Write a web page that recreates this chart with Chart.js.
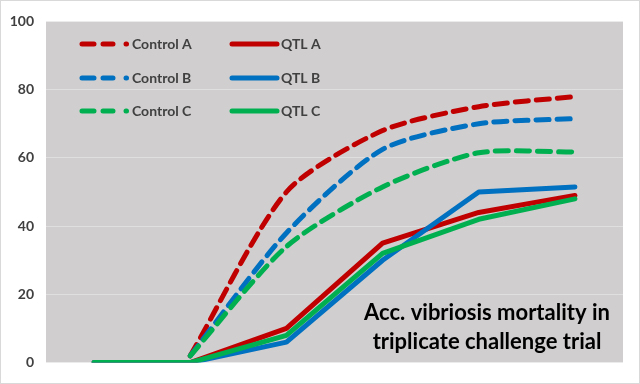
<!DOCTYPE html>
<html>
<head>
<meta charset="utf-8">
<script src="https://cdn.jsdelivr.net/npm/chart.js@4/dist/chart.umd.min.js"></script>
<style>
  html, body { margin: 0; padding: 0; background: #fff; }
  #wrap { width: 640px; height: 384px; box-sizing: border-box; border: 1px solid #d9d9d9; }
</style>
</head>
<body>
<div id="wrap"><canvas id="mortChart" width="638" height="382"></canvas></div>
<script>
/* ================= DATA ================= */
const days = ["1", "2", "3", "4", "5", "6"];
const controlA = [null, 2, 50, 68, 75, 78];
const controlB = [null, 2, 38, 62.5, 70, 71.5];
const controlC = [null, 2, 34, 51.5, 61.5, 61.7];
const qtlA = [0, 0, 10, 35, 44, 49];
const qtlB = [0, 0, 6, 30, 50, 51.5];
const qtlC = [0, 0, 8, 32, 42, 48];
const yTicks = [0, 20, 40, 60, 80, 100];
const titleLines = ["Acc. vibriosis mortality in", "triplicate challenge trial"];

const RED = "#c00000", BLUE = "#0070c0", GREEN = "#00b050";
const FONT = "Lato, 'Open Sans', sans-serif";

function ctrl(label, data, color, order) {
  return {
    label, data, borderColor: color, borderWidth: 5, borderDash: [13, 8],
    borderCapStyle: "round", tension: 0.25,
    pointRadius: 0, fill: false, order
  };
}
function qtl(label, data, color, order) {
  return {
    label, data, borderColor: color, borderWidth: 5, borderCapStyle: "round",
    borderJoinStyle: "round", tension: 0, pointRadius: 0, fill: false, order
  };
}

/* ================= BACKGROUND + LEGEND + NOTE ================= */
const decor = {
  id: "decor",
  beforeDraw(chart) {
    const { ctx, chartArea: a } = chart;
    ctx.save();
    ctx.fillStyle = "#d0cece";
    ctx.fillRect(a.left, a.top, a.right - a.left, a.bottom - a.top);
    ctx.restore();
  },
  afterDraw(chart) {
    const ctx = chart.ctx;
    const sets = chart.data.datasets;
    // legend: 2 columns x 3 rows
    const rows = [43, 77, 110];
    ctx.save();
    ctx.lineWidth = 5;
    ctx.lineCap = "round";
    ctx.font = "bold 14px " + FONT;
    ctx.textBaseline = "middle";
    ctx.fillStyle = "#404040";
    for (let i = 0; i < 3; i++) {
      const c = sets[i], q = sets[i + 3], y = rows[i];
      ctx.strokeStyle = c.borderColor;
      ctx.setLineDash([12, 9]);
      ctx.beginPath(); ctx.moveTo(81, y); ctx.lineTo(112, y); ctx.stroke();
      ctx.setLineDash([]);
      ctx.beginPath(); ctx.moveTo(125, y); ctx.lineTo(125.5, y); ctx.stroke();
      ctx.fillText(c.label, 131, y);
      ctx.strokeStyle = q.borderColor;
      ctx.beginPath(); ctx.moveTo(231, y); ctx.lineTo(276, y); ctx.stroke();
      ctx.fillText(q.label, 280, y);
    }
    ctx.font = "bold 22px " + FONT;
    ctx.fillStyle = "#000";
    ctx.textAlign = "center";
    ctx.fillText(titleLines[0], 486, 312);
    ctx.fillText(titleLines[1], 486, 341);
    ctx.restore();
  }
};

new Chart(document.getElementById("mortChart"), {
  type: "line",
  data: {
    labels: days,
    datasets: [
      ctrl("Control A", controlA, RED, 6),
      ctrl("Control B", controlB, BLUE, 5),
      ctrl("Control C", controlC, GREEN, 4),
      qtl("QTL A", qtlA, RED, 3),
      qtl("QTL B", qtlB, BLUE, 2),
      qtl("QTL C", qtlC, GREEN, 1)
    ]
  },
  options: {
    responsive: false,
    animation: false,
    layout: { padding: { left: 0, top: 19, right: 16, bottom: 16 } },
    plugins: { legend: { display: false }, tooltip: { enabled: false } },
    scales: {
      x: { display: false, offset: true },
      y: {
        min: 0, max: 100,
        afterFit(scale) { scale.width = 45; },
        afterBuildTicks(scale) { scale.ticks = yTicks.map(v => ({ value: v })); },
        border: { display: false },
        grid: { color: "rgba(255,255,255,0.35)", drawTicks: false, lineWidth: 1 },
        ticks: { color: "#404040", font: { family: FONT, size: 14, weight: "bold" }, padding: 12 }
      }
    }
  },
  plugins: [decor]
});
</script>
</body>
</html>
